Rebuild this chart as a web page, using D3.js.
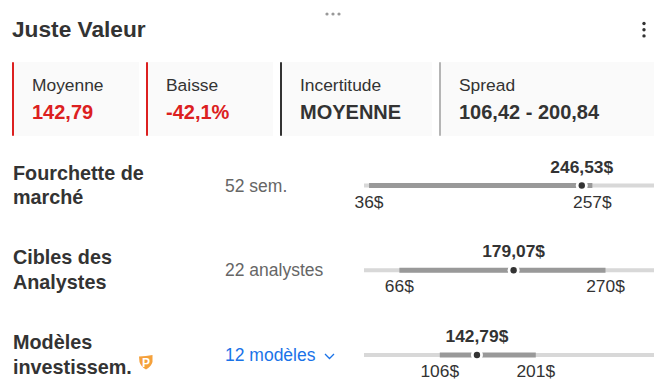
<!DOCTYPE html>
<html>
<head>
<meta charset="utf-8">
<script src="https://cdn.jsdelivr.net/npm/d3@7"></script>
<style>
  html, body { margin: 0; padding: 0; background: #fff; }
  svg { display: block; }
  text { font-family: "Liberation Sans", Arial, sans-serif; fill: #333; }
</style>
</head>
<body>
<div id="chart"></div>
<script>
// card values
const cardLabels = ["Moyenne", "Baisse", "Incertitude", "Spread"];
const cardValues = ["142,79", "-42,1%", "MOYENNE", "106,42 - 200,84"];
const cardColors = ["#dc2020", "#dc2020", "#333333", "#b5b5b5"];
const cardValueColors = ["#dc2020", "#dc2020", "#333333", "#333333"];

// range rows
const rowLabels = [["Fourchette de", "marché"], ["Cibles des", "Analystes"], ["Modèles", "investissem."]];
const rowNotes = ["52 sem.", "22 analystes", "12 modèles"];
const rowLow = [36, 66, 106];
const rowHigh = [257, 270, 201];
const rowValue = [246.53, 179.07, 142.79];
const rowValueText = ["246,53$", "179,07$", "142,79$"];

const svgWidth = 667;
const svgHeight = 390;

const svg = d3.select("#chart")
  .append("svg")
  .attr("width", svgWidth)
  .attr("height", svgHeight);

// same scale for all three tracks
const xScale = d3.scaleLinear().domain([31, 318]).range([364, 654]);
const yScale = d3.scalePoint().domain(d3.range(3)).range([185.5, 355]);

// drag handle on top
svg.selectAll(".handle")
  .data([0, 1, 2])
  .enter()
  .append("circle")
  .attr("class", "handle")
  .attr("cx", d => 327 + d * 6)
  .attr("cy", 14)
  .attr("r", 1.6)
  .attr("fill", "#999");

svg.append("text")
  .attr("x", 12)
  .attr("y", 37)
  .attr("font-size", 22.7)
  .attr("font-weight", 700)
  .text("Juste Valeur");

// kebab menu
svg.selectAll(".kebab")
  .data([0, 1, 2])
  .enter()
  .append("circle")
  .attr("class", "kebab")
  .attr("cx", 644)
  .attr("cy", d => 23.5 + d * 6.2)
  .attr("r", 1.7)
  .attr("fill", "#333");

// cards
const cardX = [12, 146, 280, 439];
const cardW = [127, 127, 152, 215];

const cards = svg.selectAll(".card")
  .data(cardLabels)
  .enter()
  .append("g")
  .attr("class", "card")
  .attr("transform", (d, i) => `translate(${cardX[i]}, 62)`);

cards.append("rect")
  .attr("width", (d, i) => cardW[i])
  .attr("height", 74)
  .attr("fill", "#fafafa");

cards.append("rect")
  .attr("width", 2)
  .attr("height", 74)
  .attr("rx", 1)
  .attr("fill", (d, i) => cardColors[i]);

cards.append("text")
  .attr("x", 20)
  .attr("y", 29)
  .attr("font-size", 17.4)
  .text(d => d);

cards.append("text")
  .attr("x", 20)
  .attr("y", 57)
  .attr("font-size", 20)
  .attr("font-weight", 700)
  .style("fill", (d, i) => cardValueColors[i])
  .text((d, i) => cardValues[i]);

// rows
const rows = svg.selectAll(".row")
  .data(rowLow)
  .enter()
  .append("g")
  .attr("class", "row");

rows.each(function(d, i) {
  const g = d3.select(this);
  const y = yScale(i);

  rowLabels[i].forEach(function(line, k) {
    g.append("text")
      .attr("x", 13)
      .attr("y", y - 6 + k * 24.5)
      .attr("font-size", 19.8)
      .attr("font-weight", 700)
      .text(line);
  });

  const note = g.append("text")
    .attr("x", 225)
    .attr("y", y + 6)
    .attr("font-size", 17.5)
    .text(rowNotes[i]);
  if (i === 2) note.style("fill", "#1a73e8");
  else note.style("fill", "#666");

  // light track
  g.append("rect")
    .attr("x", xScale.range()[0])
    .attr("y", y - 2)
    .attr("width", xScale.range()[1] - xScale.range()[0])
    .attr("height", 4)
    .attr("fill", "#d8d8d8");

  // range bar
  g.append("rect")
    .attr("x", xScale(rowLow[i]))
    .attr("y", y - 2.5)
    .attr("width", xScale(rowHigh[i]) - xScale(rowLow[i]))
    .attr("height", 5)
    .attr("fill", "#999");

  // gap round the dot
  g.append("circle")
    .attr("cx", xScale(rowValue[i]))
    .attr("cy", y)
    .attr("r", 6)
    .attr("fill", "#fff");

  g.append("circle")
    .attr("cx", xScale(rowValue[i]))
    .attr("cy", y)
    .attr("r", 3.2)
    .attr("fill", "#333");

  g.append("text")
    .attr("x", xScale(rowValue[i]))
    .attr("y", y - 13)
    .attr("text-anchor", "middle")
    .attr("font-size", 17.4)
    .attr("font-weight", 700)
    .text(rowValueText[i]);

  g.append("text")
    .attr("x", xScale(rowLow[i]))
    .attr("y", y + 22)
    .attr("text-anchor", "middle")
    .attr("font-size", 17.4)
    .text(rowLow[i] + "$");

  g.append("text")
    .attr("x", xScale(rowHigh[i]))
    .attr("y", y + 22)
    .attr("text-anchor", "middle")
    .attr("font-size", 17.4)
    .text(rowHigh[i] + "$");
});

// chevron next to 12 modèles
svg.append("path")
  .attr("d", "M325 354 L329.5 358.5 L334 354")
  .attr("fill", "none")
  .attr("stroke", "#1a73e8")
  .attr("stroke-width", 1.3);

// orange pro shield
svg.append("path")
  .attr("d", "M139 356.5 Q146 356 152.5 355 L152.5 362 Q151 367 146 369.5 Q141 367 139.5 362 Z")
  .attr("fill", "#f5a13c");
svg.append("text")
  .attr("x", 142)
  .attr("y", 366.5)
  .attr("font-size", 12)
  .attr("font-weight", 700)
  .style("fill", "#fff")
  .text("P");
</script>
</body>
</html>
